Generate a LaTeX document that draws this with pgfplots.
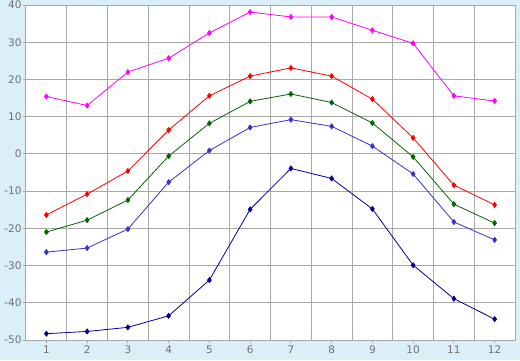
\documentclass[border=0pt]{standalone}
\usepackage{pgfplots}
\pgfplotsset{compat=1.18}
\usepackage{fontspec}
\setmainfont{DejaVu Sans}
\definecolor{bgc}{HTML}{DAEFF7}
\definecolor{gridc}{HTML}{A8A8A8}
\definecolor{tickc}{HTML}{707070}
\definecolor{cmag}{HTML}{FF00FF}
\definecolor{cred}{HTML}{FF0000}
\definecolor{cgreen}{HTML}{006600}
\definecolor{cblue}{HTML}{3333CC}
\definecolor{cdblue}{HTML}{000099}
\begin{document}
\begin{tikzpicture}[x=1bp,y=1bp]
\fill[bgc] (-26,-20) rectangle (494,340);
\useasboundingbox (-26,-20) rectangle (494,340);
\begin{axis}[
  at={(0,0)}, anchor=south west,
  scale only axis, width=489bp, height=335bp,
  xmin=0.5, xmax=12.5, ymin=-50, ymax=40,
  xtick={1,...,12}, ytick={-50,-40,...,40},
  minor xtick={1.5,2.5,...,11.5},
  xminorgrids=true, ymajorgrids=true, xmajorgrids=false,
  minor tick length=0pt, major tick length=3bp,
  tick align=outside, xtick pos=bottom, ytick pos=left,
  axis background/.style={fill=white},
  axis line style={gridc, line width=1bp},
  grid style={gridc, line width=1bp},
  minor grid style={gridc, line width=1bp},
  major tick style={gridc, line width=1bp},
  tick label style={font=\fontsize{10.5}{12}\selectfont, text=tickc},
  /pgf/number format/assume math mode=true,
  yticklabel style={xshift=2bp},
  xticklabel style={yshift=1bp},
  every axis plot/.append style={line width=0.8bp, mark=diamond*, mark size=2.5bp, mark options={solid}},
]
\addplot[cmag] coordinates {(1,15.4)(2,13.0)(3,22.0)(4,25.7)(5,32.5)(6,38.1)(7,36.8)(8,36.8)(9,33.2)(10,29.7)(11,15.6)(12,14.2)};
\addplot[cred] coordinates {(1,-16.4)(2,-10.8)(3,-4.6)(4,6.4)(5,15.6)(6,20.9)(7,23.1)(8,20.9)(9,14.7)(10,4.3)(11,-8.4)(12,-13.7)};
\addplot[cgreen] coordinates {(1,-21.0)(2,-17.8)(3,-12.4)(4,-0.6)(5,8.2)(6,14.1)(7,16.1)(8,13.8)(9,8.3)(10,-0.8)(11,-13.5)(12,-18.6)};
\addplot[cblue] coordinates {(1,-26.4)(2,-25.3)(3,-20.2)(4,-7.6)(5,0.9)(6,7.1)(7,9.2)(8,7.4)(9,2.1)(10,-5.4)(11,-18.3)(12,-23.1)};
\addplot[cdblue] coordinates {(1,-48.3)(2,-47.7)(3,-46.6)(4,-43.5)(5,-33.9)(6,-14.9)(7,-3.9)(8,-6.6)(9,-14.8)(10,-29.9)(11,-38.9)(12,-44.4)};
\end{axis}
\end{tikzpicture}
\end{document}
